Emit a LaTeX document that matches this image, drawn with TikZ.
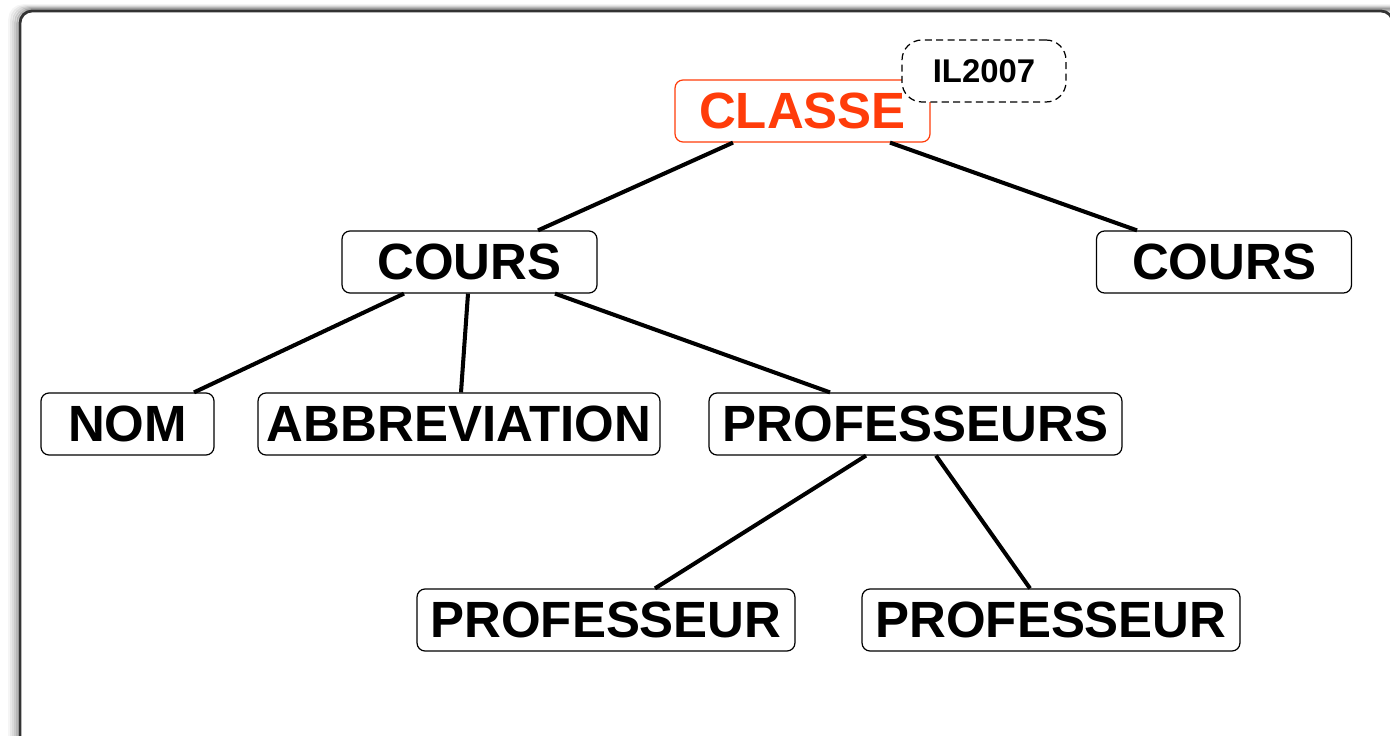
\documentclass[tikz,border=0pt]{standalone}
\usepackage{fontspec}
\setmainfont{Liberation Sans}
\usetikzlibrary{positioning,calc}

\definecolor{classeorange}{HTML}{FF3C0A}
\definecolor{framegray}{HTML}{333333}

\begin{document}
\begin{tikzpicture}[
  x=0.02cm, y=-0.02cm,
  box/.style={rectangle, draw, rounded corners=0.16cm, line width=0.7pt, align=center, minimum height=1.24cm, inner sep=0pt, font=\fontsize{29}{31}\selectfont\bfseries},
  root/.style={box, draw=classeorange, text=classeorange},
  tag/.style={rectangle, draw, dash pattern=on 4pt off 2.5pt, fill=white, rounded corners=0.4cm, line width=0.7pt, minimum height=1.24cm, minimum width=3.28cm, inner sep=0pt, font=\fontsize{18.7}{20}\selectfont\bfseries},
  link/.style={line width=2.3pt},
]

\useasboundingbox (0,0) rectangle (1390,736);
\clip (0,0) rectangle (1390,736);

% === Frame with soft shadow ===
\foreach \d/\o in {10/0.04, 8/0.06, 6/0.09, 4/0.13, 2/0.18}
  \draw[line width=2pt, black, opacity=\o, rounded corners=0.26cm]
    (20-\d,760) -- (20-\d,11-\d*0.5) -- (1400,11-\d*0.5);
\draw[line width=1.6pt, framegray, rounded corners=0.24cm, fill=white]
  (20,760) -- (20,11) -- (1393,11) -- (1393,760);

% === Root ===
\node[root, minimum width=5.1cm] (classe) at (802.5,111) {CLASSE};
\node[tag] (year) at (984,71) {IL2007};

% === Level 1 ===
\node[box, minimum width=5.1cm] (coursA) at (469.5,262) {COURS};
\node[box, minimum width=5.1cm] (coursB) at (1224,262) {COURS};

% === Level 2 ===
\node[box, minimum width=3.46cm] (nom) at (127.5,424) {NOM};
\node[box, minimum width=8.04cm] (abbr) at (459,424) {ABBREVIATION};
\node[box, minimum width=8.26cm] (profs) at (915.5,424) {PROFESSEURS};

% === Level 3 ===
\node[box, minimum width=7.56cm] (profA) at (606,620) {PROFESSEUR};
\node[box, minimum width=7.56cm] (profB) at (1051,620) {PROFESSEUR};

% === Links ===
\draw[link] ($(classe.south)+(-69.5,0)$) -- ($(coursA.north)+(68.5,0)$);
\draw[link] ($(classe.south)+(87.5,0)$) -- ($(coursB.north)+(-87,0)$);
\draw[link] ($(coursA.south)+(-65.5,0)$) -- ($(nom.north)+(66.5,0)$);
\draw[link] ($(coursA.south)+(-1.5,0)$) -- ($(abbr.north)+(2,0)$);
\draw[link] ($(coursA.south)+(85.5,0)$) -- ($(profs.north)+(-85.5,0)$);
\draw[link] ($(profs.south)+(-49.5,0)$) -- ($(profA.north)+(49,0)$);
\draw[link] ($(profs.south)+(20.5,0)$) -- ($(profB.north)+(-21,0)$);

\end{tikzpicture}
\end{document}
